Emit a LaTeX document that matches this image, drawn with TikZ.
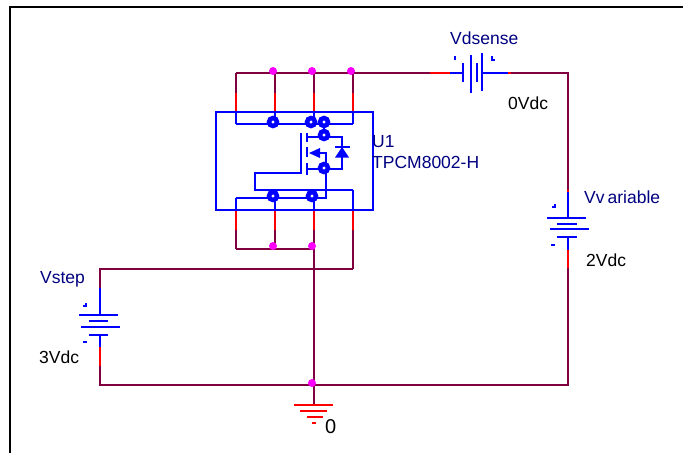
\documentclass[tikz,border=0pt]{standalone}
\usepackage{xcolor}
\usepackage{fontspec}
\setmainfont{Liberation Sans}
\definecolor{wirecol}{HTML}{800040}
\definecolor{labelcol}{HTML}{000080}
\definecolor{dotcol}{HTML}{FF00FF}
\tikzset{
    wire/.style={draw=wirecol, line width=2pt},
    pinred/.style={draw=red, line width=2pt},
    part/.style={draw=blue, line width=2pt},
    gnd/.style={draw=red, line width=2pt},
    junction/.style={circle, fill=dotcol, inner sep=0pt, minimum size=8pt},
    pad/.style={circle, draw=blue, fill=white, line width=4.5pt, inner sep=0pt, outer sep=0pt, minimum size=8pt},
    partname/.style={text=labelcol, font=\fontsize{17.5}{19}\selectfont, anchor=west, inner sep=0pt},
    partvalue/.style={text=black, font=\fontsize{17.5}{19}\selectfont, anchor=west, inner sep=0pt},
}
\begin{document}
\begin{tikzpicture}[x=1pt, y=-1pt]
    \useasboundingbox (0,0) rectangle (683,453);
    \coordinate (frameA) at (10,453);
    \coordinate (frameB) at (10,7);
    \coordinate (frameC) at (683,7);
    \draw[black, line width=2pt] (frameA) -- (frameB) -- (frameC);

    % top pins
    \foreach \name/\x in {dA/236, dB/275, dC/314, dD/353} {
        \coordinate (\name top) at (\x,73);
        \coordinate (\name mid) at (\x,93);
        \coordinate (\name box) at (\x,112);
        \coordinate (\name bus) at (\x,123.5);
        \draw[wire] (\name top) -- (\name mid);
        \draw[pinred] (\name mid) -- (\name box);
        \draw[part] (\name box) -- (\name bus);
    }
    % bottom pins
    \foreach \name/\x/\y/\e in {sA/236/198/249, sB/275/198/246, sC/314/198/249, gA/353/190/268.5} {
        \coordinate (\name bus) at (\x,\y);
        \coordinate (\name box) at (\x,210);
        \coordinate (\name mid) at (\x,230);
        \coordinate (\name end) at (\x,\e);
        \draw[part] (\name bus) -- (\name box);
        \draw[pinred] (\name box) -- (\name mid);
        \draw[wire] (\name mid) -- (\name end);
    }

    \node[draw=blue, line width=2pt, minimum width=157pt, minimum height=98pt, inner sep=0pt, outer sep=0pt, anchor=north west] (U1) at (216,112) {};
    \draw[part] (dAbus) -- (dDbus);

    % mosfet
    \coordinate (gateT) at (300.5,133);
    \coordinate (gateB) at (300.5,172.5);
    \coordinate (gateL) at (255,172.5);
    \coordinate (gateC) at (255,190);
    \coordinate (drainL) at (307,136.5);
    \coordinate (drainR) at (342,136.5);
    \coordinate (srcL) at (307,169);
    \coordinate (srcR) at (342,169);
    \coordinate (bodyL) at (320,153);
    \coordinate (bodyR) at (326,153);
    \coordinate (srcD) at (326,198);
    \draw[part] (gateT) -- (gateB) -- (gateL) -- (gateC) -- (gAbus);
    \draw[part] (sAbus) -- (srcD) -- (bodyR) -- (bodyL);
    \draw[part] (drainL) -- (drainR) -- (srcR) -- (srcL);
    \draw[part] (307,133) -- (307,142);
    \draw[part] (307,147) -- (307,157);
    \draw[part] (307,163) -- (307,175);
    \fill[blue] (309,153) -- (320,148) -- (320,158) -- cycle;
    \draw[part] (335,147) -- (350,147);
    \fill[blue] (342,147) -- (335,157.5) -- (349,157.5) -- cycle;

    \coordinate (drainT) at (324,122);
    \coordinate (drainB) at (324,135);
    \draw[part] (drainT) -- (drainB);
    \node[pad] (padA) at (273,122) {};
    \node[pad] (padB) at (311,122) {};
    \node[pad] (padC) at (324,122) {};
    \node[pad] (padD) at (324,135) {};
    \node[pad] (padE) at (324,168) {};
    \node[pad] (padF) at (273,196) {};
    \node[pad] (padG) at (312,196) {};

    % wires
    \coordinate (vdL) at (430,73);
    \coordinate (vdR) at (568,73);
    \coordinate (stepT) at (100,268.5);
    \coordinate (stepB) at (100,385);
    \coordinate (varB) at (568,385);
    \coordinate (gndT) at (314,404);
    \draw[wire] (dAtop) -- (vdL);
    \draw[wire] (sAend) -- (sCend);
    \draw[wire] (gAend) -- (stepT) -- (100,288);
    \draw[wire] (sCend) -- (gndT);
    \draw[wire] (100,366) -- (stepB) -- (varB) -- (568,268);
    \draw[wire] (510,73) -- (vdR) -- (568,190);

    % Vdsense
    \draw[pinred] (vdL) -- (450,73);
    \draw[part] (450,73) -- (463,73);
    \draw[part] (482,73) -- (508,73);
    \draw[pinred] (508,73) -- (511,73);
    \draw[part] (463,63) -- (463,82);
    \draw[part] (471,55) -- (471,93);
    \draw[part] (477,63) -- (477,82);
    \draw[part] (482,53) -- (482,91);
    \draw[part] (455,56) -- (455,60);
    \draw[part] (492,56) -- (492,60) -- (495,60);

    % Vvariable
    \draw[pinred] (568,190) -- (568,192);
    \draw[part] (568,192) -- (568,218);
    \draw[part] (547,218) -- (586,218);
    \draw[part] (557,223.5) -- (577,223.5);
    \draw[part] (550,229) -- (589,229);
    \draw[part] (557,237) -- (577,237);
    \draw[part] (568,237) -- (568,250);
    \draw[pinred] (568,250) -- (568,268);
    \draw[part] (552,207) -- (555,207) -- (555,204);
    \draw[part] (551,245) -- (555,245);

    % Vstep
    \draw[part] (100,288) -- (100,315);
    \draw[part] (79,315) -- (118,315);
    \draw[part] (89,321) -- (108,321);
    \draw[part] (81,327) -- (120,327);
    \draw[part] (89,335) -- (108,335);
    \draw[part] (100,335) -- (100,347);
    \draw[pinred] (100,347) -- (100,366);
    \draw[part] (83,306) -- (86,306) -- (86,303);
    \draw[part] (83,342) -- (87,342);

    % ground
    \draw[gnd] (294,405) -- (333,405);
    \draw[gnd] (300,411) -- (327,411);
    \draw[gnd] (307,417) -- (323,417);
    \draw[gnd] (312,422.5) -- (316,422.5);

    \node[junction] (dotA) at (273,71) {};
    \node[junction] (dotB) at (312,71) {};
    \node[junction] (dotC) at (351,71) {};
    \node[junction] (dotD) at (273,246) {};
    \node[junction] (dotE) at (312,246) {};
    \node[junction] (dotF) at (312,383) {};

    \node[partname] (nameU) at (372,142) {U1};
    \node[partname] (nameT) at (372,162) {TPCM8002-H};
    \node[partname] (nameD) at (450,38) {Vdsense};
    \node[partname] (nameV) at (584,197) {Vv\kern3pt ariable};
    \node[partname] (nameS) at (40,279) {Vstep};
    \node[partvalue] (valD) at (508,103) {0Vdc};
    \node[partvalue] (valV) at (586,260) {2Vdc};
    \node[partvalue] (valS) at (39,357) {3Vdc};
    \node[partvalue, font=\fontsize{20}{22}\selectfont] (valG) at (325,427) {0};
\end{tikzpicture}
\end{document}
